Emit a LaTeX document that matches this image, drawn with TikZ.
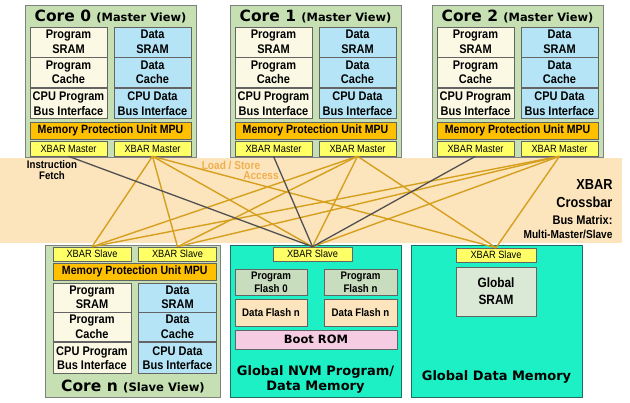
\documentclass[tikz,border=0pt]{standalone}
\usepackage{fontspec}
\usepackage{xcolor}
\newfontfamily\narrow{Liberation Sans}[FakeStretch=0.88]
\newfontfamily\verd{DejaVu Sans}
\definecolor{corefill}{RGB}{198,224,180}
\definecolor{progfill}{RGB}{251,249,228}
\definecolor{datfill}{RGB}{180,228,246}
\definecolor{mpufill}{RGB}{255,192,0}
\definecolor{portfill}{RGB}{255,255,102}
\definecolor{bandfill}{RGB}{252,228,188}
\definecolor{memfill}{RGB}{30,240,198}
\definecolor{memline}{RGB}{30,110,100}
\definecolor{flashfill}{RGB}{200,220,190}
\definecolor{romfill}{RGB}{246,204,226}
\definecolor{gsramfill}{RGB}{218,232,214}
\definecolor{boxline}{RGB}{100,100,100}
\definecolor{xorange}{RGB}{214,160,30}
\definecolor{xgray}{RGB}{80,80,80}
\definecolor{lstext}{RGB}{240,176,80}

\begin{document}
\begin{tikzpicture}[x=1pt, y=-1pt,
    box/.style={draw=boxline, line width=0.6pt, inner sep=0pt, align=center},
    core/.style={box, draw=gray, fill=corefill, minimum width=171, minimum height=152},
    prog/.style={box, fill=progfill, minimum width=77, minimum height=30, font=\narrow\bfseries\fontsize{12.5}{14.5}\selectfont},
    dat/.style={prog, fill=datfill},
    mpu/.style={box, fill=mpufill, minimum width=161, minimum height=17, font=\narrow\bfseries\fontsize{12}{12}\selectfont},
    port/.style={box, fill=portfill, minimum width=77, minimum height=15, font=\narrow\fontsize{10.5}{10.5}\selectfont},
    coretitle/.style={font=\verd\bfseries\fontsize{15.5}{16}\selectfont},
    memtitle/.style={align=center, font=\verd\bfseries\fontsize{13}{15}\selectfont},
    mem/.style={box, draw=memline, fill=memfill, minimum width=171, minimum height=152},
    flash/.style={box, fill=flashfill, minimum width=72, minimum height=26, font=\narrow\bfseries\fontsize{11}{13}\selectfont},
    dflash/.style={flash, fill=bandfill, minimum height=27},
    xline/.style={draw=xorange, line width=1.4pt},
    iline/.style={draw=xgray, line width=1.3pt},
    xlabel/.style={anchor=east, font=\narrow\bfseries\fontsize{14.5}{15}\selectfont}
  ]
    \useasboundingbox (0,0) rectangle (630,403);
    \node[minimum width=622, minimum height=85, fill=bandfill, inner sep=0pt] (xbar) at (311,200.5) {};
    \node[xlabel] (xb1) at (616,185) {XBAR};
    \node[xlabel] (xb2) at (616,202) {Crossbar};
    \node[xlabel, font=\narrow\bfseries\fontsize{12.5}{13}\selectfont] (xb3) at (616,220) {Bus Matrix:};
    \node[xlabel, font=\narrow\bfseries\fontsize{11.5}{12}\selectfont] (xb4) at (616,234) {Multi-Master/Slave};
    \node[align=center, font=\narrow\bfseries\fontsize{11}{11}\selectfont] (ifl) at (52,170.5) {Instruction\\Fetch};
    \node[text=lstext, font=\narrow\bfseries\fontsize{11.5}{11.5}\selectfont] (ls1) at (231,165) {Load / Store};
    \node[text=lstext, font=\narrow\bfseries\fontsize{11.5}{11.5}\selectfont] (ls2) at (261,176) {Access};

    \node[core] (c0) at (110.5,81) {};
    \node[coretitle] (t0) at (110.5,17) {Core 0 {\fontsize{11.4}{12}\selectfont(Master View)}};
    \node[prog] (ps0) at (68.5,42) {Program\\SRAM};
    \node[dat] (ds0) at (152.5,42) {Data\\SRAM};
    \node[prog] (pc0) at (68.5,72.5) {Program\\Cache};
    \node[dat] (dc0) at (152.5,72.5) {Data\\Cache};
    \node[prog] (pb0) at (68.5,103.5) {CPU Program\\Bus Interface};
    \node[dat] (db0) at (152.5,103.5) {CPU Data\\Bus Interface};
    \node[mpu] (mpu0) at (110.5,130.5) {Memory Protection Unit MPU};
    \node[port] (mi0) at (68.5,148.5) {XBAR Master};
    \node[port] (md0) at (152.5,148.5) {XBAR Master};

    \node[core] (c1) at (315.5,81) {};
    \node[coretitle] (t1) at (315.5,17) {Core 1 {\fontsize{11.4}{12}\selectfont(Master View)}};
    \node[prog] (ps1) at (273.5,42) {Program\\SRAM};
    \node[dat] (ds1) at (357.5,42) {Data\\SRAM};
    \node[prog] (pc1) at (273.5,72.5) {Program\\Cache};
    \node[dat] (dc1) at (357.5,72.5) {Data\\Cache};
    \node[prog] (pb1) at (273.5,103.5) {CPU Program\\Bus Interface};
    \node[dat] (db1) at (357.5,103.5) {CPU Data\\Bus Interface};
    \node[mpu] (mpu1) at (315.5,130.5) {Memory Protection Unit MPU};
    \node[port] (mi1) at (273.5,148.5) {XBAR Master};
    \node[port] (md1) at (357.5,148.5) {XBAR Master};

    \node[core] (c2) at (517.5,81) {};
    \node[coretitle] (t2) at (517.5,17) {Core 2 {\fontsize{11.4}{12}\selectfont(Master View)}};
    \node[prog] (ps2) at (475.5,42) {Program\\SRAM};
    \node[dat] (ds2) at (559.5,42) {Data\\SRAM};
    \node[prog] (pc2) at (475.5,72.5) {Program\\Cache};
    \node[dat] (dc2) at (559.5,72.5) {Data\\Cache};
    \node[prog] (pb2) at (475.5,103.5) {CPU Program\\Bus Interface};
    \node[dat] (db2) at (559.5,103.5) {CPU Data\\Bus Interface};
    \node[mpu] (mpu2) at (517.5,130.5) {Memory Protection Unit MPU};
    \node[port] (mi2) at (475.5,148.5) {XBAR Master};
    \node[port] (md2) at (559.5,148.5) {XBAR Master};

    \node[core, minimum width=175] (cn) at (133,321) {};
    \node[port, minimum width=78, minimum height=14] (sl1) at (92,254) {XBAR Slave};
    \node[port, minimum width=78, minimum height=14] (sl2) at (177.5,254) {XBAR Slave};
    \node[mpu, minimum width=163.5] (mpun) at (134.75,271.5) {Memory Protection Unit MPU};
    \node[prog, minimum width=78, minimum height=29] (psn) at (92,297.5) {Program\\SRAM};
    \node[dat, minimum width=78, minimum height=29] (dsn) at (177.5,297.5) {Data\\SRAM};
    \node[prog, minimum width=78, minimum height=29] (pcn) at (92,327) {Program\\Cache};
    \node[dat, minimum width=78, minimum height=29] (dcn) at (177.5,327) {Data\\Cache};
    \node[prog, minimum width=78, minimum height=31] (pbn) at (92,358) {CPU Program\\Bus Interface};
    \node[dat, minimum width=78, minimum height=31] (dbn) at (177.5,358) {CPU Data\\Bus Interface};
    \node[coretitle] (tn) at (133,387) {Core n {\fontsize{11.6}{12}\selectfont(Slave View)}};

    \node[mem] (nvm) at (315.5,321) {};
    \node[port, minimum width=79, minimum height=14] (snvm) at (312.5,254) {XBAR Slave};
    \node[flash] (pf0) at (271,282) {Program\\Flash 0};
    \node[flash, minimum width=73] (pfn) at (360.5,282) {Program\\Flash n};
    \node[dflash] (df0) at (271,312.5) {Data Flash n};
    \node[dflash, minimum width=73] (dfn) at (360.5,312.5) {Data Flash n};
    \node[box, fill=romfill, minimum width=162, minimum height=19, font=\verd\bfseries\fontsize{11.5}{12}\selectfont] (rom) at (316,339.5) {Boot ROM};
    \node[memtitle] (tnvm) at (315.5,379.5) {Global NVM Program/\\Data Memory};

    \node[mem] (gdm) at (496.5,321) {};
    \node[port, minimum width=80, minimum height=14] (ssram) at (496,255) {XBAR Slave};
    \node[box, fill=gsramfill, minimum width=80, minimum height=49, font=\narrow\bfseries\fontsize{13.5}{17}\selectfont] (gsram) at (496,291.5) {Global\\SRAM};
    \node[memtitle] (tgdm) at (496.5,377) {Global Data Memory};

    \draw [xline] (md0.south) to (sl1.north);
    \draw [xline] (md0.south) to (sl2.north);
    \draw [xline] (md0.south) to (snvm.north);
    \draw [xline] (md0.south) to (ssram.north);
    \draw [xline] (md1.south) to (sl1.north);
    \draw [xline] (md1.south) to (sl2.north);
    \draw [xline] (md1.south) to (snvm.north);
    \draw [xline] (md1.south) to (ssram.north);
    \draw [xline] (md2.south) to (sl1.north);
    \draw [xline] (md2.south) to (sl2.north);
    \draw [xline] (md2.south) to (snvm.north);
    \draw [xline] (md2.south) to (ssram.north);
    \draw [iline] (mi0.south) to (snvm.north);
    \draw [iline] (mi1.south) to (snvm.north);
    \draw [iline] (mi2.south) to (snvm.north);
  \end{tikzpicture}
\end{document}
